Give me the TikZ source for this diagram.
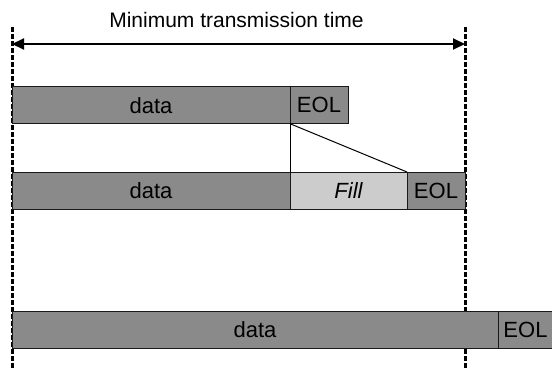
\documentclass[tikz,border=0pt]{standalone}
\usepackage{fontspec}
\setmainfont{Liberation Sans}
\usetikzlibrary{arrows.meta}
\definecolor{datagray}{gray}{0.54}
\definecolor{fillgray}{gray}{0.8}
\tikzset{
  seg/.style={draw=black!90, line width=1pt, fill=datagray, inner sep=0pt, outer sep=0pt,
    minimum height=37pt, anchor=north west, font=\fontsize{22}{25}\selectfont},
  padseg/.style={seg, fill=fillgray, font=\fontsize{22}{25}\selectfont\itshape},
  limit/.style={line width=3pt, dash pattern=on 4.5pt off 2.5pt},
  span/.style={line width=2pt, {Triangle[length=12pt,width=11pt]}-{Triangle[length=12pt,width=11pt]}},
  guide/.style={line width=1pt}
}
\begin{document}
\begin{tikzpicture}[x=1pt,y=-1pt]
\useasboundingbox (0,0) rectangle (552,370);
% time limits
\coordinate (lt) at (12,27);
\coordinate (lb) at (12,370);
\coordinate (rt) at (465,27);
\coordinate (rb) at (465,370);
\draw[limit] (lt) -- (lb);
\draw[limit] (rt) -- (rb);
\coordinate (al) at (12,44);
\coordinate (ar) at (465,44);
\draw[span] (al) -- (ar);
\node[anchor=base, font=\fontsize{21}{24}\selectfont, inner sep=0pt] (title) at (236.5,27.5) {Minimum transmission time};
% frame 1
\node[seg, minimum width=278pt] (d1) at (12,86.7) {data};
\node[seg, minimum width=58pt] (e1) at (d1.north east) {EOL};
% frame 2
\node[seg, minimum width=278pt] (d2) at (12,172) {data};
\node[padseg, minimum width=117pt] (f2) at (d2.north east) {Fill};
\node[seg, minimum width=58pt] (e2) at (f2.north east) {EOL};
% padding guides
\draw[guide] (e1.south west) -- (f2.north west);
\draw[guide] (e1.south west) -- (f2.north east);
% frame 3
\node[seg, minimum width=486pt] (d3) at (12,311) {data};
\node[seg, minimum width=55pt] (e3) at (d3.north east) {EOL};
\end{tikzpicture}
\end{document}
